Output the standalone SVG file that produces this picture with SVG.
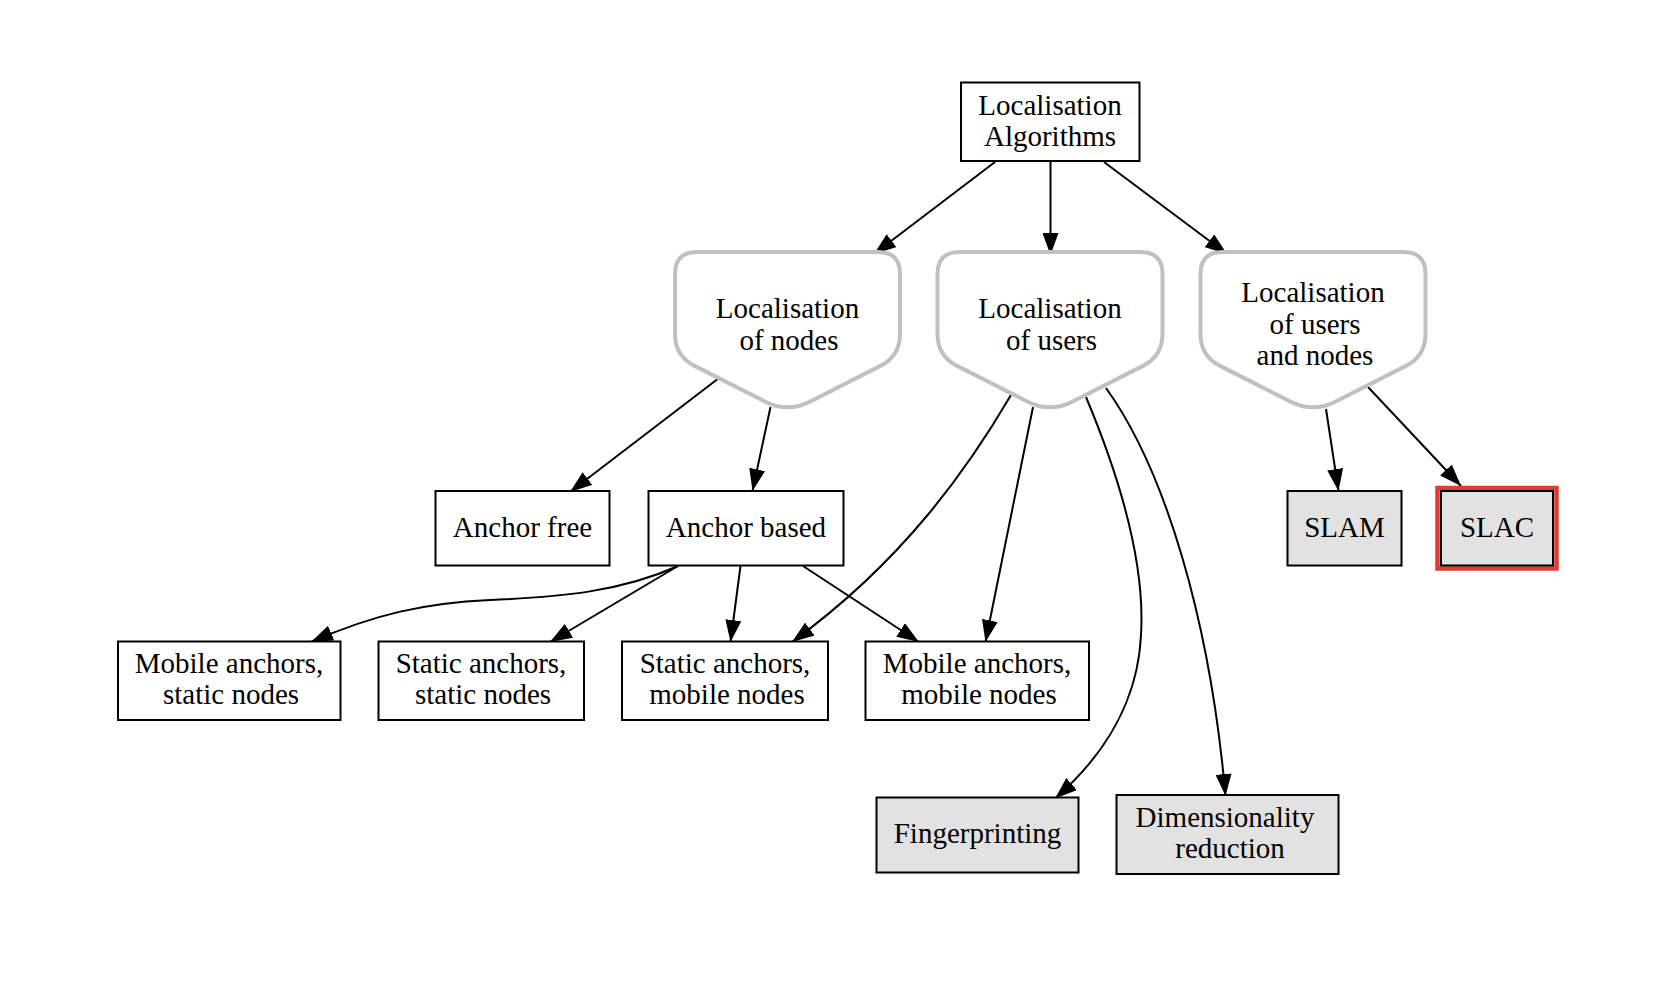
<svg xmlns="http://www.w3.org/2000/svg" xmlns:xlink="http://www.w3.org/1999/xlink" width="1668" height="991" viewBox="0 0 1668 991">
<style>
  .box { fill: #ffffff; stroke: #000000; stroke-width: 2; }
  .gbox { fill: #e2e2e2; stroke: #000000; stroke-width: 2; }
  .house { fill: #ffffff; stroke: #c0c0c0; stroke-width: 4; }
  .lbl { font-family: "Liberation Serif", "Times New Roman", serif; font-size: 29px; fill: #000000; text-anchor: middle; }
  .edge { fill: none; stroke: #000000; stroke-width: 2; marker-end: url(#arrow); }
</style>
<defs>
  <marker id="arrow" markerUnits="userSpaceOnUse" markerWidth="22" markerHeight="16" viewBox="0 0 22 16" refX="22" refY="8" orient="auto">
    <path d="M0,0 L22,8 L0,16 Z" fill="#000000"/>
  </marker>
  <path id="invhouse" d="M -90.5,252 L 90.5,252 Q 112.5,252 112.5,274 L 112.5,334 Q 112.5,356 92.9,365.9 L 22.3,401.7 Q 0,413 -22.3,401.7 L -92.9,365.9 Q -112.5,356 -112.5,334 L -112.5,274 Q -112.5,252 -90.5,252 Z"/>
</defs>
<rect width="1668" height="991" fill="#ffffff"/>

<g id="connectors">
  <path class="edge" d="M995,162 L874,254"/>
  <path class="edge" d="M1050.5,162 L1050.5,255"/>
  <path class="edge" d="M1104,162 L1227,254"/>
  <path class="edge" d="M719,378 L570,492"/>
  <path class="edge" d="M770.5,407 L752.5,491"/>
  <path class="edge" d="M1011,395 C970,465 905,560 792,642"/>
  <path class="edge" d="M1033,407 L985.5,642"/>
  <path class="edge" d="M1086,397 C1125,490 1145,570 1141,635 C1138,700 1105,755 1055,798.5"/>
  <path class="edge" d="M1106,388 C1165,470 1210,620 1225.5,796"/>
  <path class="edge" d="M1326,409 L1338.5,491"/>
  <path class="edge" d="M1368,387 L1461,486"/>
  <path class="edge" d="M678,566 C620,592 560,597 490,600 C425,603 375,614 311,642"/>
  <path class="edge" d="M678,566 L550,642"/>
  <path class="edge" d="M740.5,566 L730.5,642"/>
  <path class="edge" d="M803,566 L919,642"/>
</g>

<g id="n_algorithms">
  <rect class="box" x="961" y="82.5" width="178.5" height="78.5"/>
  <text class="lbl" x="1050" y="114.5">Localisation</text>
  <text class="lbl" x="1050" y="145.5">Algorithms</text>
</g>

<g id="n_loc_nodes">
  <use xlink:href="#invhouse" href="#invhouse" class="house" x="787.5" y="0"/>
  <text class="lbl" x="787.5" y="318">Localisation</text>
  <text class="lbl" x="789" y="349.5">of nodes</text>
</g>

<g id="n_loc_users">
  <use xlink:href="#invhouse" href="#invhouse" class="house" x="1050" y="0"/>
  <text class="lbl" x="1050" y="318">Localisation</text>
  <text class="lbl" x="1051.5" y="349.5">of users</text>
</g>

<g id="n_loc_users_nodes">
  <use xlink:href="#invhouse" href="#invhouse" class="house" x="1313" y="0"/>
  <text class="lbl" x="1313" y="302">Localisation</text>
  <text class="lbl" x="1315" y="333.5">of users</text>
  <text class="lbl" x="1315" y="365">and nodes</text>
</g>

<g id="n_anchor_free">
  <rect class="box" x="435.5" y="491" width="174" height="74.5"/>
  <text class="lbl" x="522.5" y="537">Anchor free</text>
</g>

<g id="n_anchor_based">
  <rect class="box" x="648.5" y="491" width="195" height="74.5"/>
  <text class="lbl" x="746" y="537">Anchor based</text>
</g>

<g id="n_slam">
  <rect class="gbox" x="1287.5" y="491" width="114" height="74.5"/>
  <text class="lbl" x="1344.5" y="537">SLAM</text>
</g>

<g id="n_slac">
  <rect x="1437.5" y="488" width="119" height="80.5" fill="none" stroke="#dd3b33" stroke-width="4.5"/>
  <rect class="gbox" x="1441" y="491" width="112" height="74.5"/>
  <text class="lbl" x="1497" y="537">SLAC</text>
</g>

<g id="n_mobile_static">
  <rect class="box" x="118" y="641.5" width="222.5" height="78.5"/>
  <text class="lbl" x="229" y="673">Mobile anchors,</text>
  <text class="lbl" x="231" y="704">static nodes</text>
</g>

<g id="n_static_static">
  <rect class="box" x="378.5" y="641.5" width="205.5" height="78.5"/>
  <text class="lbl" x="481" y="673">Static anchors,</text>
  <text class="lbl" x="483" y="704">static nodes</text>
</g>

<g id="n_static_mobile">
  <rect class="box" x="622" y="641.5" width="206" height="78.5"/>
  <text class="lbl" x="725" y="673">Static anchors,</text>
  <text class="lbl" x="727" y="704">mobile nodes</text>
</g>

<g id="n_mobile_mobile">
  <rect class="box" x="865.5" y="641.5" width="223.5" height="78.5"/>
  <text class="lbl" x="977" y="673">Mobile anchors,</text>
  <text class="lbl" x="979" y="704">mobile nodes</text>
</g>

<g id="n_fingerprinting">
  <rect class="gbox" x="876.5" y="797.5" width="202" height="75"/>
  <text class="lbl" x="977.5" y="843">Fingerprinting</text>
</g>

<g id="n_dimensionality">
  <rect class="gbox" x="1116.5" y="795" width="222" height="79"/>
  <text class="lbl" x="1225" y="827">Dimensionality</text>
  <text class="lbl" x="1230" y="858">reduction</text>
</g>
</svg>
